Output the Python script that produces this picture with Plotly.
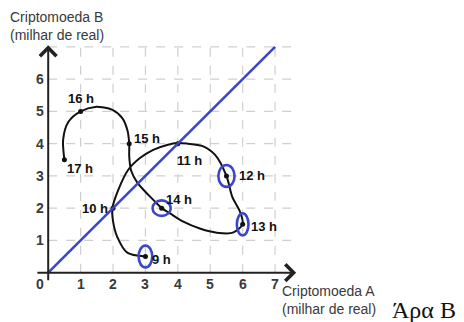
import plotly.graph_objects as go

# Hourly positions (Criptomoeda A, Criptomoeda B), in thousands of reais
hours = ["9 h", "10 h", "11 h", "12 h", "13 h", "14 h", "15 h", "16 h", "17 h"]
hour_a = [3.0, 2.0, 4.0, 5.5, 6.0, 3.5, 2.5, 1.0, 0.5]
hour_b = [0.5, 2.0, 4.0, 3.0, 1.5, 2.0, 4.0, 5.0, 3.5]

# Path traced through the day
path_a = [3.0, 2.44, 2.13, 2.0, 1.98, 2.16, 2.47, 2.84, 3.24, 3.67, 4.0, 4.3, 4.75, 5.15,
          5.5, 5.68, 5.93, 6.0, 5.7, 5.2, 4.7, 4.17, 3.77, 3.5, 3.4, 3.09, 2.75, 2.56,
          2.5, 2.5, 2.44, 2.28, 1.98, 1.45, 1.0, 0.62, 0.46, 0.5]
path_b = [0.5, 0.62, 1.11, 1.6, 2.0, 2.56, 3.19, 3.56, 3.81, 3.96, 4.02, 4.0, 3.93, 3.65,
          3.0, 2.35, 1.86, 1.5, 1.24, 1.24, 1.36, 1.58, 1.83, 2.0, 2.1, 2.41, 2.79, 3.16,
          3.6, 4.0, 4.43, 4.8, 5.05, 5.14, 5.0, 4.67, 4.12, 3.5]

# Hours highlighted with a ring
ringed = ["9 h", "12 h", "13 h", "14 h"]
ring_radii = {"9 h": (0.21, 0.34), "12 h": (0.25, 0.34), "13 h": (0.18, 0.34), "14 h": (0.28, 0.24)}

x_ticks = [1, 2, 3, 4, 5, 6, 7]
y_ticks = [1, 2, 3, 4, 5, 6]
grid_x = [1, 2, 3, 4, 5, 6, 7]
grid_y = [1, 2, 3, 4, 5, 6, 7]

# Equal-value line A = B
diag = [0, 7]

# Label placement per hour: (xanchor, xshift, yshift)
label_pos = {
    "9 h": ("left", 5, -3), "10 h": ("right", -3, 0), "11 h": ("left", -3, -17),
    "12 h": ("left", 11, 0), "13 h": ("left", 6, -2), "14 h": ("left", 2, 9),
    "15 h": ("left", 3, 5), "16 h": ("center", 0, 13), "17 h": ("left", 1, -9),
}

BLUE = "#3c46c8"
INK = "#111111"
GRID = "#cfcfcf"
TEXT = "#3a3a3a"
SANS = "Liberation Sans, Arial, sans-serif"

fig = go.Figure()

shapes = []
for gx in grid_x:
    shapes.append(dict(type="line", xref="x", yref="y", x0=gx, x1=gx, y0=0, y1=7,
                       line=dict(color=GRID, width=1.2, dash="dash"), layer="below"))
for gy in grid_y:
    shapes.append(dict(type="line", xref="x", yref="y", x0=0, x1=7.65, y0=gy, y1=gy,
                       line=dict(color=GRID, width=1.2, dash="dash"), layer="below"))

fig.add_trace(go.Scatter(x=path_a, y=path_b, mode="lines",
                         line=dict(color=INK, width=2, shape="spline", smoothing=0.8),
                         hoverinfo="skip"))
fig.add_trace(go.Scatter(x=hour_a, y=hour_b, mode="markers",
                         marker=dict(color=INK, size=5), hoverinfo="skip"))
fig.add_trace(go.Scatter(x=diag, y=diag, mode="lines",
                         line=dict(color=BLUE, width=2.6), hoverinfo="skip"))

for h, a, b in zip(hours, hour_a, hour_b):
    if h in ringed:
        rx, ry = ring_radii[h]
        shapes.append(dict(type="circle", xref="x", yref="y",
                           x0=a - rx, x1=a + rx, y0=b - ry, y1=b + ry,
                           line=dict(color=BLUE, width=2.6)))

annotations = []
# Axes with arrowheads
annotations.append(dict(x=7.65, y=0, ax=-0.38, ay=0, xref="x", yref="y", axref="x", ayref="y",
                        text="", showarrow=True, arrowhead=4, arrowsize=1.6, arrowwidth=2,
                        arrowcolor="#222222"))
annotations.append(dict(x=0, y=7.05, ax=0, ay=-0.28, xref="x", yref="y", axref="x", ayref="y",
                        text="", showarrow=True, arrowhead=4, arrowsize=1.6, arrowwidth=2,
                        arrowcolor="#222222"))

tick_font = dict(family=SANS, size=14, color=TEXT)
for t in x_ticks:
    annotations.append(dict(x=t, y=-0.35, xref="x", yref="y", text=f"<b>{t}</b>",
                            showarrow=False, font=tick_font))
for t in y_ticks:
    annotations.append(dict(x=-0.25, y=t, xref="x", yref="y", text=f"<b>{t}</b>",
                            showarrow=False, font=tick_font))
annotations.append(dict(x=-0.25, y=-0.35, xref="x", yref="y", text="<b>0</b>",
                        showarrow=False, font=tick_font))

for h, a, b in zip(hours, hour_a, hour_b):
    anchor, dx, dy = label_pos[h]
    annotations.append(dict(x=a, y=b, xref="x", yref="y", text=f"<b>{h}</b>",
                            showarrow=False, xanchor=anchor, yanchor="middle",
                            xshift=dx, yshift=dy,
                            font=dict(family=SANS, size=13, color=INK)))

W, H = 464, 322
ML, MR, MT, MB = 32, 163, 34, 30
pw, ph = W - ML - MR, H - MT - MB


def px(x, y):
    return (x - ML) / pw, (H - MB - y) / ph


title_font = dict(family=SANS, size=14, color=TEXT)
bx, by = px(8, 26)
annotations.append(dict(x=bx, y=by, xref="paper", yref="paper", xanchor="left", yanchor="middle",
                        text="Criptomoeda B<br>(milhar de real)", align="left",
                        showarrow=False, font=title_font))
ax_, ay_ = px(280, 300)
annotations.append(dict(x=ax_, y=ay_, xref="paper", yref="paper", xanchor="left", yanchor="middle",
                        text="Criptomoeda A<br>(milhar de real)", align="left",
                        showarrow=False, font=title_font))
gx_, gy_ = px(390, 310)
annotations.append(dict(x=gx_, y=gy_, xref="paper", yref="paper", xanchor="left", yanchor="middle",
                        text="Άρα B", showarrow=False,
                        font=dict(family="Liberation Serif, DejaVu Serif, serif", size=24,
                                  color="#111111")))

fig.update_layout(
    width=W, height=H,
    margin=dict(l=ML, r=MR, t=MT, b=MB),
    paper_bgcolor="white", plot_bgcolor="white",
    showlegend=False,
    xaxis=dict(range=[-0.5, 7.8], visible=False, fixedrange=True),
    yaxis=dict(range=[-0.6, 7.4], visible=False, fixedrange=True),
    shapes=shapes,
    annotations=annotations,
)

fig.write_html("out.html")
